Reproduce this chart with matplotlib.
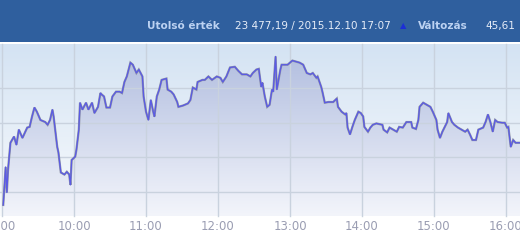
import numpy as np
import matplotlib
matplotlib.use("Agg")
import matplotlib.pyplot as plt
from matplotlib.colors import LinearSegmentedColormap
from matplotlib.patches import Rectangle

# intraday index values
times = [
    "09:01", "09:03", "09:04", "09:05", "09:07", "09:10", "09:12", "09:14", "09:17", "09:21",
    "09:23", "09:25", "09:27", "09:29", "09:32", "09:36", "09:38", "09:40", "09:42", "09:43",
    "09:46", "09:47", "09:49", "09:52", "09:54", "09:56", "09:57", "09:58", "10:01", "10:02",
    "10:04", "10:05", "10:07", "10:10", "10:12", "10:15", "10:17", "10:20", "10:22", "10:23",
    "10:25", "10:27", "10:30", "10:32", "10:35", "10:38", "10:40", "10:42", "10:44", "10:47",
    "10:49", "10:52", "10:54", "10:57", "10:58", "11:00", "11:02", "11:04", "11:06", "11:07",
    "11:09", "11:11", "11:13", "11:17", "11:18", "11:21", "11:23", "11:26", "11:27", "11:31",
    "11:35", "11:37", "11:39", "11:42", "11:43", "11:47", "11:49", "11:52", "11:55", "11:59",
    "12:02", "12:04", "12:07", "12:10", "12:14", "12:17", "12:20", "12:24", "12:27", "12:29",
    "12:32", "12:34", "12:36", "12:37", "12:39", "12:41", "12:43", "12:45", "12:46", "12:48",
    "12:49", "12:52", "12:53", "12:58", "13:00", "13:02", "13:06", "13:08", "13:11", "13:14",
    "13:17", "13:19", "13:22", "13:23", "13:26", "13:27", "13:29", "13:32", "13:36", "13:39",
    "13:40", "13:43", "13:46", "13:47", "13:48", "13:50", "13:52", "13:54", "13:57", "13:59",
    "14:01", "14:02", "14:05", "14:07", "14:09", "14:12", "14:17", "14:18", "14:21", "14:23",
    "14:26", "14:29", "14:31", "14:34", "14:37", "14:41", "14:42", "14:45", "14:47", "14:48",
    "14:51", "14:54", "14:57", "14:59", "15:02", "15:03", "15:05", "15:07", "15:11", "15:12",
    "15:15", "15:17", "15:20", "15:23", "15:26", "15:28", "15:30", "15:32", "15:35", "15:37",
    "15:41", "15:43", "15:45", "15:47", "15:49", "15:51", "15:53", "15:57", "15:59", "16:01",
    "16:02", "16:04", "16:06", "16:08", "16:12",
]
values = [
    23381, 23436, 23399, 23432, 23471, 23480, 23468, 23490, 23478, 23493,
    23494, 23509, 23522, 23516, 23504, 23501, 23497, 23504, 23519, 23509,
    23465, 23457, 23428, 23425, 23429, 23425, 23410, 23446, 23451, 23461,
    23490, 23529, 23519, 23529, 23519, 23529, 23514, 23523, 23543, 23541,
    23538, 23522, 23522, 23538, 23545, 23545, 23543, 23559, 23567, 23587,
    23584, 23572, 23577, 23567, 23538, 23516, 23504, 23533, 23516, 23509,
    23538, 23548, 23562, 23564, 23548, 23545, 23541, 23530, 23523, 23525,
    23528, 23533, 23551, 23548, 23559, 23562, 23562, 23567, 23562, 23567,
    23565, 23559, 23567, 23580, 23581, 23575, 23570, 23570, 23567, 23572,
    23577, 23578, 23552, 23558, 23538, 23523, 23526, 23548, 23545, 23596,
    23548, 23577, 23584, 23584, 23587, 23590, 23588, 23587, 23584, 23572,
    23570, 23572, 23565, 23567, 23552, 23545, 23529, 23530, 23530, 23535,
    23523, 23516, 23512, 23514, 23493, 23483, 23494, 23504, 23516, 23514,
    23509, 23494, 23487, 23493, 23497, 23499, 23497, 23490, 23486, 23493,
    23490, 23487, 23494, 23493, 23501, 23501, 23493, 23491, 23504, 23523,
    23529, 23526, 23523, 23516, 23504, 23490, 23478, 23487, 23501, 23514,
    23501, 23497, 23493, 23490, 23487, 23490, 23483, 23475, 23475, 23490,
    23493, 23501, 23512, 23501, 23487, 23504, 23501, 23500, 23500, 23493,
    23494, 23465, 23475, 23471, 23471,
]
hour_ticks = ["9:00", "10:00", "11:00", "12:00", "13:00", "14:00", "15:00", "16:00"]
grid_levels = [23400, 23450, 23500, 23550]

last_label = "Utolsó érték"
last_value = "23 477,19 / 2015.12.10 17:07"
change_label = "Változás"
change_value = "45,61"


def to_hours(s):
    h, m = s.split(":")
    return int(h) + int(m) / 60.0


x = np.array([to_hours(t) for t in times])
y = np.array(values, dtype=float)

W, H = 520, 245
fig = plt.figure(figsize=(W / 100, H / 100), dpi=100)
fig.patch.set_facecolor("white")

# header band
head_h = 42
fig.patches.append(Rectangle((0, 1 - head_h / H), 1, head_h / H, transform=fig.transFigure,
                             facecolor="#2f5f9e", edgecolor="none", zorder=0))
ty = 1 - 26 / H
fig.text(147 / W, ty, last_label, color="#bcd2f2", fontsize=7.5, fontweight="bold", va="center")
fig.text(235 / W, ty, last_value, color="#e6edf8", fontsize=7.5, va="center")
fig.text(403 / W, ty, "▲", color="#1c2fd6", fontsize=6, va="center", ha="center")
fig.text(418 / W, ty, change_label, color="#bcd2f2", fontsize=7.5, fontweight="bold", va="center")
fig.text(485 / W, ty, change_value, color="#e6edf8", fontsize=7.5, va="center")

top_px, bot_px = 44, 216
ax = fig.add_axes([0, 1 - bot_px / H, 1, (bot_px - top_px) / H])
x0, x1 = to_hours("08:58") + 0.3 / 60, to_hours("16:11") + 0.7 / 60
y0, y1 = 23365, 23614
ax.set_xlim(x0, x1)
ax.set_ylim(y0, y1)

# background gradient
bg = LinearSegmentedColormap.from_list("bg", ["#f9fbfd", "#d4e3f3"])
grad = np.linspace(0, 1, 256).reshape(-1, 1)
ax.imshow(grad, cmap=bg, origin="lower", aspect="auto", extent=[x0, x1, y0, y1], zorder=0)

# gradient fill under the curve
fillcm = LinearSegmentedColormap.from_list("fill", ["#f3f5fb", "#b3bfe0"])
poly = ax.fill_between(x, y, y0, facecolor="none", edgecolor="none")
img = ax.imshow(grad, cmap=fillcm, origin="lower", aspect="auto",
                extent=[x0, x1, y0, max(values)], zorder=1)
img.set_clip_path(poly.get_paths()[0], transform=ax.transData)

for lv in grid_levels:
    ax.axhline(lv, color="#c9d2de", lw=1, zorder=2)
tick_pos = [to_hours(t) for t in hour_ticks]
for tp in tick_pos:
    ax.axvline(tp, color="#c9d2de", lw=1, zorder=2, clip_on=False, ymin=0, ymax=1)

ax.plot(x, y, color="#8d92a6", lw=1.6, zorder=3, solid_joinstyle="miter")
ax.plot(x, y, color="#5a5ae6", lw=0.9, zorder=4)

ax.set_xticks(tick_pos)
ax.set_xticklabels(hour_ticks, color="#9a9db2", fontsize=8.5)
ax.tick_params(axis="x", length=0, pad=3)
ax.set_yticks([])
for sp in ax.spines.values():
    sp.set_visible(False)

fig.savefig("out.png", dpi=100)
